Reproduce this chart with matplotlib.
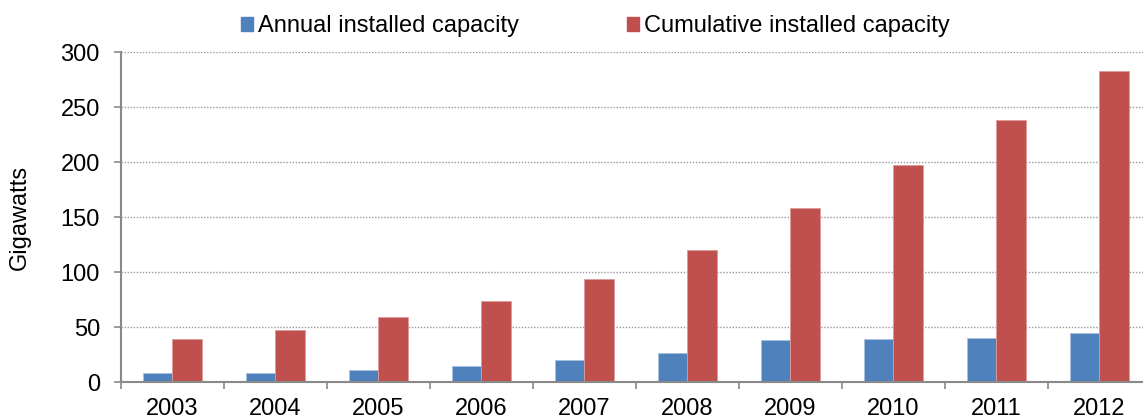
import numpy as np
import matplotlib.pyplot as plt
from matplotlib.patches import Patch
from matplotlib.ticker import FixedLocator, NullFormatter

plt.rcParams['font.family'] = ['Liberation Sans', 'DejaVu Sans']

# data (GW)
years = ['2003', '2004', '2005', '2006', '2007', '2008', '2009', '2010', '2011', '2012']
annual = [8.1, 8.2, 11.5, 15.2, 19.9, 26.8, 38.6, 39.1, 40.6, 44.8]
cumulative = [39.4, 47.6, 59.1, 74.0, 93.9, 120.6, 158.9, 197.6, 238.1, 282.6]

blue = '#4F81BD'
red = '#C0504D'
grey = '#898989'
fs = 17

fig = plt.figure(figsize=(11.43, 4.19), dpi=100)
ax = fig.add_axes([0.1056, 0.0876, 0.9011, 0.7876])

x = np.arange(len(years))
w = 0.285
ax.bar(x - w / 2, annual, w, color=blue, edgecolor='#a9c0de', linewidth=0.6, zorder=3)
ax.bar(x + w / 2, cumulative, w, color=red, edgecolor='#dc9a98', linewidth=0.6, zorder=3)

ax.set_xlim(-0.5, len(years) - 0.5)
ax.set_ylim(0, 300)
ax.set_yticks(range(0, 301, 50))
ax.yaxis.grid(True, linestyle=(0, (1, 1.2)), color='#9a9a9a', linewidth=1.0, zorder=0)
ax.tick_params(axis='y', labelsize=fs, length=5, width=1.2, color=grey, pad=10)

ax.set_xticks(x)
ax.set_xticklabels(years)
ax.tick_params(axis='x', which='major', length=0, labelsize=fs, pad=11)
ax.xaxis.set_minor_locator(FixedLocator(np.arange(-0.5, len(years), 1.0)))
ax.xaxis.set_minor_formatter(NullFormatter())
ax.tick_params(axis='x', which='minor', length=5, width=1.2, color=grey, direction='out')

for s in ['top', 'right']:
    ax.spines[s].set_visible(False)
for s in ['left', 'bottom']:
    ax.spines[s].set_color(grey)
    ax.spines[s].set_linewidth(1.5)
ax.spines['bottom'].set_zorder(4)

ax.set_ylabel('Gigawatts', fontsize=fs, labelpad=21)

handles = [Patch(color=blue), Patch(color=red)]
fig.legend(handles, ['Annual installed capacity', 'Cumulative installed capacity'],
           loc='center', bbox_to_anchor=(0.521, 0.937), ncol=2, frameon=False,
           fontsize=fs, handlelength=0.5, handleheight=0.5, handletextpad=0.2,
           columnspacing=4.6, borderpad=0)

fig.savefig('out.png', dpi=100)
